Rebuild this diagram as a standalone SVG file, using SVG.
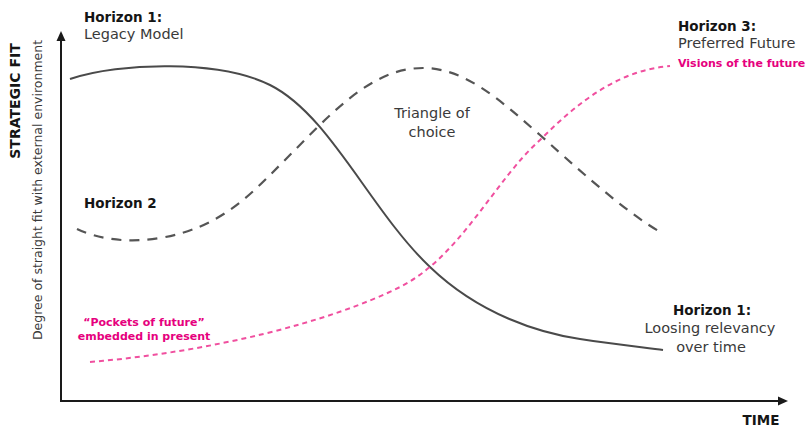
<svg xmlns="http://www.w3.org/2000/svg" width="807" height="427" viewBox="0 0 807 427">
<style>
text{font-family:"DejaVu Sans","Liberation Sans",sans-serif}
.h{font-weight:bold;font-size:13.5px;fill:#151515}
.r{font-size:14.5px;fill:#3a3a3a}
.p{font-weight:bold;font-size:11px;fill:#e6007e}
.axis{stroke:#1a1a1a;stroke-width:2;fill:none}
.head{fill:#1a1a1a}
.solid{stroke:#4a4a4a;stroke-width:2;fill:none}
.dash{stroke:#555;stroke-width:2.2;fill:none;stroke-dasharray:10 8}
.pink{stroke:#f0509f;stroke-width:2;fill:none;stroke-dasharray:5 4}
</style>
<g id="axes">
<line class="axis" x1="61" y1="402" x2="61" y2="40"/>
<polygon class="head" points="61,31 65.5,41 56.5,41"/>
<line class="axis" x1="60" y1="401" x2="780" y2="401"/>
<polygon class="head" points="788,401 778,396.5 778,405.5"/>
<text class="h" x="20" y="101" text-anchor="middle" transform="rotate(-90 20 101)" style="font-size:14px">STRATEGIC FIT</text>
<text x="42" y="190" text-anchor="middle" transform="rotate(-90 42 190)" style="font-size:12.5px;fill:#3a3a3a">Degree of straight fit with external environment</text>
<text class="h" x="761" y="425" text-anchor="middle">TIME</text>
</g>
<g id="connectors">
<path id="horizon1-curve" class="solid" d="M70,79 C120,62 220,60 270,85 C330,115 370,210 430,267 C480,315 540,333 580,339 C620,345 650,348 663,350"/>
<path id="horizon2-curve" class="dash" d="M77,229 C100,240 130,243 160,238 C220,228 250,195 280,165 C330,115 370,68 423,68 C465,68 500,100 540,135 C590,180 630,215 662,233"/>
<path id="horizon3-curve" class="pink" d="M90,362 C210,352 330,322 400,287 C460,257 495,180 540,140 C580,100 620,70 670,66"/>
</g>
<g id="label-h1-legacy">
<text class="h" x="84" y="22">Horizon 1:</text>
<text class="r" x="84" y="39">Legacy Model</text>
</g>
<g id="label-h3">
<text class="h" x="678" y="31">Horizon 3:</text>
<text class="r" x="678" y="48">Preferred Future</text>
<text class="p" x="678" y="67">Visions of the future</text>
</g>
<g id="label-triangle">
<text class="r" x="432" y="118" text-anchor="middle">Triangle of</text>
<text class="r" x="432" y="137" text-anchor="middle">choice</text>
</g>
<g id="label-h2">
<text class="h" x="84" y="208">Horizon 2</text>
</g>
<g id="label-pockets">
<text class="p" x="144" y="326" text-anchor="middle">“Pockets of future”</text>
<text class="p" x="144" y="340" text-anchor="middle">embedded in present</text>
</g>
<g id="label-h1-loosing">
<text class="h" x="712" y="315" text-anchor="middle">Horizon 1:</text>
<text class="r" x="710" y="333" text-anchor="middle">Loosing relevancy</text>
<text class="r" x="711" y="352" text-anchor="middle">over time</text>
</g>
</svg>
